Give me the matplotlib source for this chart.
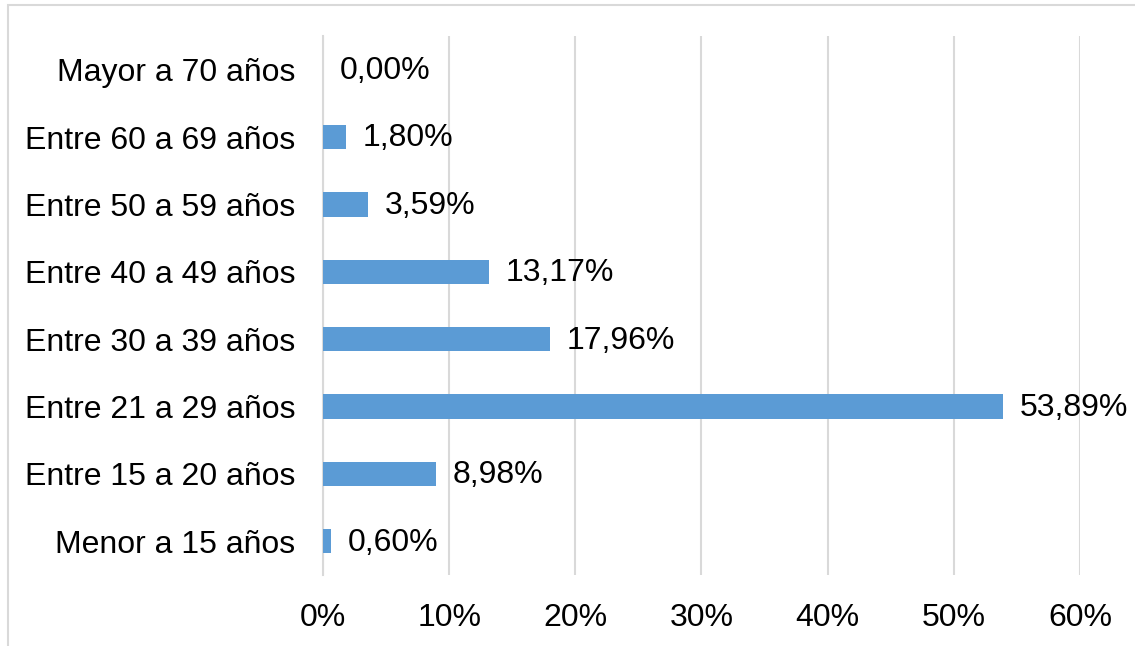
import matplotlib.pyplot as plt
from matplotlib.patches import Rectangle
from matplotlib.ticker import FuncFormatter

plt.rcParams['font.family'] = ['Liberation Sans', 'DejaVu Sans']

categories = ["Menor a 15 años", "Entre 15 a 20 años", "Entre 21 a 29 años",
              "Entre 30 a 39 años", "Entre 40 a 49 años", "Entre 50 a 59 años",
              "Entre 60 a 69 años", "Mayor a 70 años"]
values = [0.60, 8.98, 53.89, 17.96, 13.17, 3.59, 1.80, 0.00]
xticks = [0, 10, 20, 30, 40, 50, 60]

bar_color = "#5B9BD5"
grid_color = "#D9D9D9"

fig = plt.figure(figsize=(11.35, 6.46), dpi=100)
ax = fig.add_axes([0.2846, 0.1099, 0.6669, 0.8344])

y = list(range(len(categories)))
ax.barh(y, values, height=0.36, color=bar_color, zorder=3)

for yi, v in zip(y, values):
    label = f"{v:.2f}".replace(".", ",") + "%"
    ax.annotate(label, (v, yi), xytext=(12, -1), textcoords="offset points",
                va="center", ha="left", fontsize=23, color="black")

ax.set_xlim(0, 60)
ax.set_ylim(-0.5, len(categories) - 0.5)
ax.set_xticks(xticks)
ax.xaxis.set_major_formatter(FuncFormatter(lambda v, p: f"{v:.0f}%"))
ax.set_yticks(y)
ax.set_yticklabels(categories)
ax.tick_params(axis="both", length=0, labelsize=23)
ax.tick_params(axis="x", pad=20)
ax.tick_params(axis="y", pad=20)
ax.grid(axis="x", color=grid_color, linewidth=1.5, zorder=0)
for s in ["top", "right", "bottom"]:
    ax.spines[s].set_visible(False)
ax.spines["left"].set_color(grid_color)
ax.spines["left"].set_linewidth(1.5)

# outer chart border (right and bottom edges fall outside the image)
fig.patches.append(Rectangle((0.007, -0.1), 1.2, 1.0923, transform=fig.transFigure,
                             fill=False, edgecolor=grid_color, linewidth=1.5))

fig.savefig("out.png", dpi=100)
